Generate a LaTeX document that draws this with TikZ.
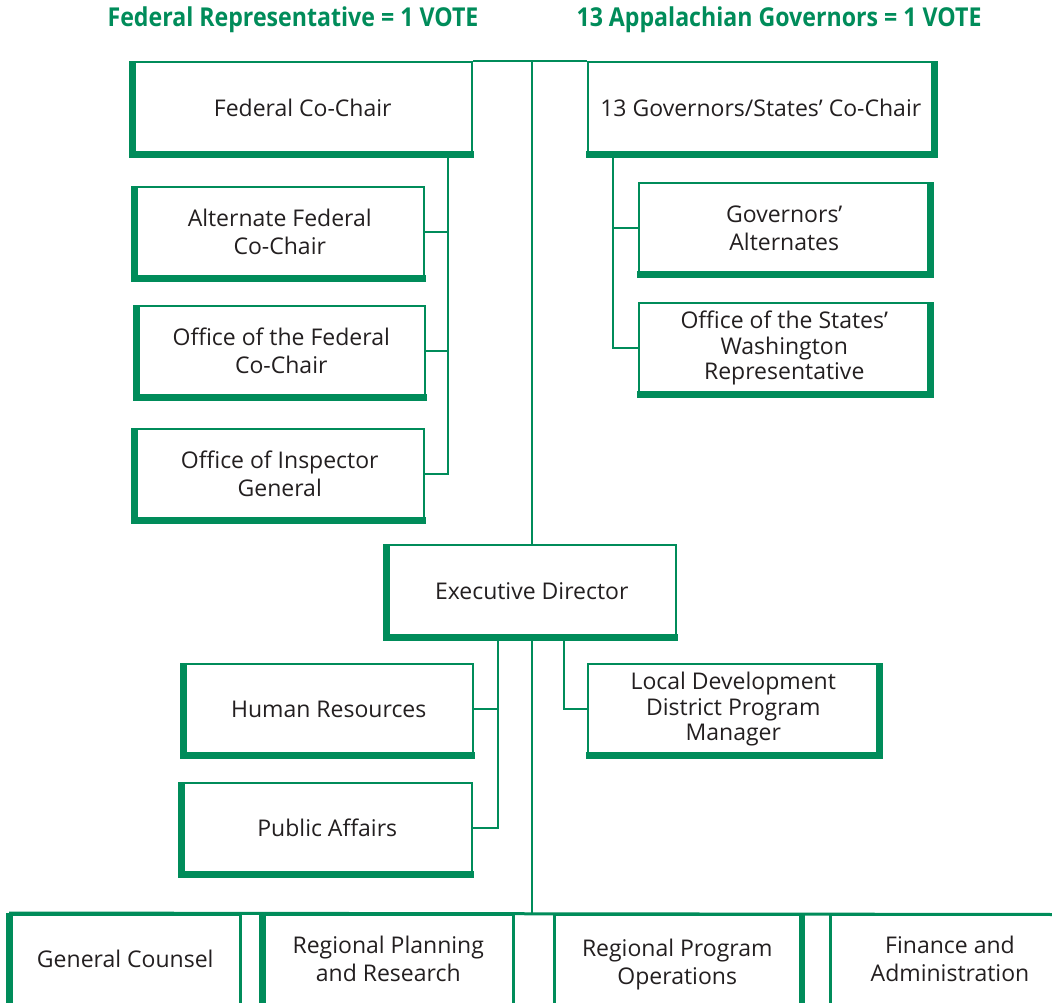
\documentclass[tikz,border=0pt]{standalone}
\usepackage{fontspec}
\setmainfont{Open Sans}
\newfontfamily\hdrfont{Open Sans}[FakeStretch=0.89]
\definecolor{acg}{RGB}{0,140,90}
\definecolor{txt}{RGB}{35,31,32}
\tikzset{
  box/.style={draw=acg, line width=2pt, fill=white, inner sep=0pt, align=center,
    text=txt, font=\fontsize{23}{28}\selectfont},
  tightbox/.style={box, font=\fontsize{23}{25.5}\selectfont},
  bbox/.style={box, line width=3pt},
  thickside/.style={draw=acg, line width=7pt, line join=miter},
  conn/.style={draw=acg, line width=2.4pt},
  hdr/.style={text=acg, font=\hdrfont\bfseries\fontsize{26}{30}\selectfont, anchor=base, inner sep=0pt}
}
\newcommand\mkbox[7][box]{%
  \node[#1, minimum width={(#5)-(#3)}, minimum height={(#6)-(#4)}] (#2) at ({((#3)+(#5))/2},{((#4)+(#6))/2}) {#7};}
\newcommand\thickL[1]{\draw[thickside] (#1.north west) |- ([xshift=1pt]#1.south east);}
\newcommand\thickR[1]{\draw[thickside] (#1.north east) |- ([xshift=-1pt]#1.south west);}
\begin{document}
\begin{tikzpicture}[x=1pt,y=-1pt]
\useasboundingbox (0,0) rectangle (1052,1002);
\clip (0,0) rectangle (1052,1002);
\fill[white] (0,0) rectangle (1052,1002);

% headers
\node[hdr] (h1) at (293,26) {Federal Representative = 1 VOTE};
\node[hdr] (h2) at (779,26) {13 Appalachian Governors = 1 VOTE};

% boxes (border-line rectangles)
\mkbox{fed}{133.5}{62}{472}{153.5}{Federal Co-Chair}
\mkbox{gov}{588}{62}{933.5}{153.5}{13 Governors/States' Co-Chair}
\mkbox{alt}{135.5}{187}{424}{277.5}{Alternate Federal\\Co-Chair}
\mkbox{ofc}{137.5}{306}{425}{396.5}{Office of the Federal\\Co-Chair}
\mkbox{oig}{135.5}{429}{424}{519.5}{Office of Inspector\\General}
\mkbox{gal}{639}{183}{929.5}{273.5}{Governors'\\Alternates}
\mkbox[tightbox]{ows}{639}{303}{929.5}{393.5}{Office of the States'\\Washington\\Representative}
\mkbox{ed}{387.5}{545}{676}{636.5}{Executive Director}
\mkbox{hr}{184.5}{664}{473}{754.5}{Human Resources}
\mkbox{pa}{182.5}{783}{472}{873.5}{Public Affairs}
\mkbox[tightbox]{ldd}{588}{664}{878.5}{754.5}{Local Development\\District Program\\Manager}

% connectors
\coordinate (topjoin) at (ed.north |- fed.north east);
\coordinate (fedbus) at (448,153.5);
\coordinate (govbus) at (613,153.5);
\coordinate (hrbus) at (498,636.5);
\coordinate (lddbus) at (564,636.5);
\coordinate (rowend) at (1060,914.5);
\coordinate (rowjoin) at (ed.south |- rowend);
\draw[conn] (fed.north east) -- (gov.north west);
\draw[conn] (topjoin) -- (ed.north);
\draw[conn] (ed.south) -- (rowjoin);
\draw[conn] (fedbus) |- (oig.east);
\draw[conn] (fedbus |- alt.east) -- (alt.east);
\draw[conn] (fedbus |- ofc.east) -- (ofc.east);
\draw[conn] (govbus) |- (ows.west);
\draw[conn] (govbus |- gal.west) -- (gal.west);
\draw[conn] (hrbus) |- (pa.east);
\draw[conn] (hrbus |- hr.east) -- (hr.east);
\draw[conn] (lddbus) |- (ldd.west);

% redraw boxes on top of connectors
\mkbox{fed}{133.5}{62}{472}{153.5}{Federal Co-Chair}
\mkbox{gov}{588}{62}{933.5}{153.5}{13 Governors/States' Co-Chair}
\mkbox{ed}{387.5}{545}{676}{636.5}{Executive Director}
\thickL{fed} \thickR{gov}
\thickL{alt} \thickL{ofc} \thickL{oig}
\thickR{gal} \thickR{ows}
\thickL{ed} \thickL{hr} \thickL{pa} \thickR{ldd}

% bottom row
\mkbox[bbox]{gc}{10.5}{914.5}{240}{1004}{General Counsel}
\mkbox[bbox]{rpr}{263.5}{914.5}{513}{1004}{Regional Planning\\and Research}
\mkbox[bbox]{rpo}{554.5}{914.5}{800}{1014}{Regional Program\\Operations}
\mkbox[bbox]{fa}{830}{914.5}{1070}{1004}{Finance and\\Administration}
\draw[conn, line width=3pt] (gc.north west) -- (rowend);
\draw[thickside] (gc.north west) -- (gc.south west);
\draw[thickside] (rpr.north west) -- (rpr.south west);
\draw[thickside, line width=6pt] (rpo.north east) -- (rpo.south east);
\end{tikzpicture}
\end{document}
